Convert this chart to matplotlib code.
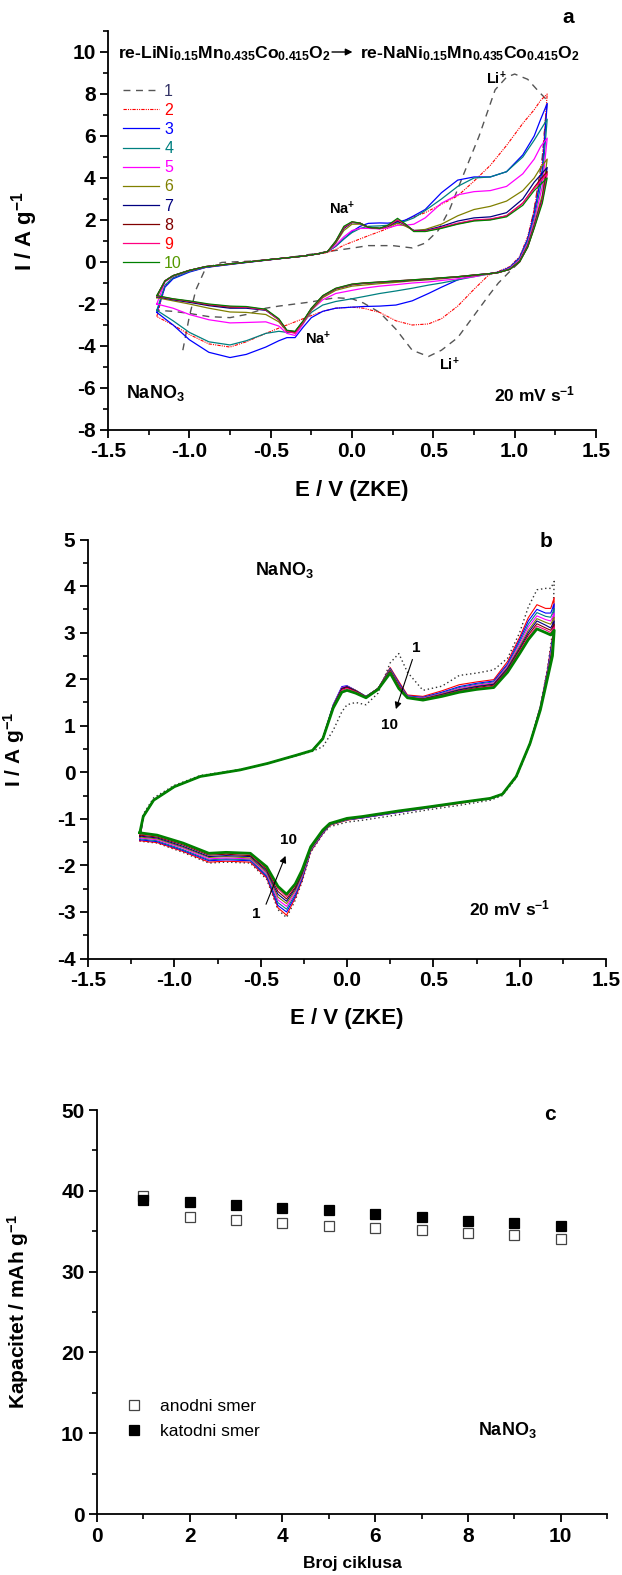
import matplotlib
matplotlib.use('Agg')
import matplotlib.pyplot as plt
from matplotlib.ticker import MultipleLocator

plt.rcParams['font.family'] = ['Liberation Sans', 'DejaVu Sans']
plt.rcParams['mathtext.fontset'] = 'custom'
plt.rcParams['mathtext.rm'] = 'Liberation Sans'
plt.rcParams['mathtext.bf'] = 'Liberation Sans:bold'
plt.rcParams['mathtext.it'] = 'Liberation Sans:italic'
plt.rcParams['mathtext.default'] = 'bf'
plt.rcParams['axes.unicode_minus'] = False

# ---------------- Panel a data ----------------
EA_AN = [-1.2, -1.15, -1.1, -1.0, -0.9, -0.7, -0.5, -0.3, -0.2, -0.15, -0.1, -0.05, 0.0, 0.05, 0.1,
         0.17, 0.22, 0.28, 0.33, 0.38, 0.45, 0.55, 0.65, 0.75, 0.85, 0.95, 1.05, 1.12, 1.16, 1.2]
EA_CAT = [1.2, 1.17, 1.12, 1.08, 1.03, 0.97, 0.9, 0.84, 0.75, 0.65, 0.55, 0.47, 0.37, 0.27, 0.17, 0.07,
          0.0, -0.1, -0.18, -0.25, -0.3, -0.35, -0.4, -0.45, -0.53, -0.65, -0.75, -0.88, -1.0, -1.1, -1.2]
E1_AN = [-1.04, -1.0, -0.96, -0.9, -0.8, -0.6, -0.4, -0.2, -0.1, 0.0, 0.1, 0.25, 0.37, 0.45, 0.53,
         0.6, 0.68, 0.78, 0.88, 0.95, 1.0, 1.08, 1.15, 1.2]

A1_AN = [-4.2, -2.6, -1.33, -0.3, -0.02, 0.05, 0.2, 0.43, 0.55, 0.66, 0.78, 0.78, 0.67, 0.9, 1.5,
         2.5, 4.06, 5.97, 8.2, 8.8, 8.95, 8.7, 8.1, 7.7]
A2_AN = [-2.6, -1.15, -0.75, -0.45, -0.25, -0.06, 0.11, 0.28, 0.4, 0.45, 0.6, 0.8, 0.95, 1.1, 1.25,
         1.45, 1.6, 1.8, 2.0, 2.15, 2.35, 2.75, 3.15, 3.85, 4.6, 5.55, 6.6, 7.25, 7.7, 8.0]
A3_AN = [-2.4, -1.2, -0.8, -0.48, -0.26, -0.07, 0.11, 0.28, 0.4, 0.5, 0.75, 1.1, 1.45, 1.7, 1.84,
         1.86, 1.85, 1.9, 2.0, 2.2, 2.5, 3.3, 3.9, 4.05, 4.05, 4.3, 5.1, 6.0, 6.8, 7.55]
A4_AN = [-2.3, -1.1, -0.75, -0.45, -0.25, -0.06, 0.12, 0.28, 0.4, 0.5, 0.75, 1.1, 1.4, 1.6, 1.7,
         1.72, 1.75, 1.85, 1.95, 2.1, 2.45, 3.0, 3.6, 4.0, 4.05, 4.3, 5.0, 5.8, 6.3, 6.8]
A5_AN = [-2.0, -0.95, -0.68, -0.42, -0.23, -0.05, 0.12, 0.28, 0.4, 0.5, 0.8, 1.2, 1.5, 1.6, 1.6,
         1.58, 1.62, 1.75, 1.75, 1.8, 2.1, 2.8, 3.2, 3.35, 3.4, 3.6, 4.2, 4.9, 5.5, 5.9]
A6_AN = [-1.7, -0.92, -0.66, -0.4, -0.22, -0.05, 0.12, 0.28, 0.4, 0.5, 0.9, 1.5, 1.8, 1.8, 1.65,
         1.6, 1.68, 1.85, 1.7, 1.5, 1.55, 1.8, 2.2, 2.5, 2.65, 2.9, 3.4, 4.0, 4.5, 4.9]
A7_AN = [-1.65, -0.9, -0.65, -0.4, -0.22, -0.05, 0.12, 0.28, 0.4, 0.5, 0.95, 1.6, 1.88, 1.85, 1.66,
         1.6, 1.7, 1.95, 1.76, 1.5, 1.5, 1.7, 1.95, 2.1, 2.15, 2.35, 3.0, 3.8, 4.15, 4.5]
A8_AN = [-1.62, -0.9, -0.65, -0.4, -0.22, -0.05, 0.12, 0.28, 0.4, 0.5, 0.98, 1.65, 1.9, 1.85, 1.65,
         1.6, 1.72, 2.0, 1.78, 1.47, 1.47, 1.63, 1.82, 1.98, 2.02, 2.2, 2.8, 3.55, 3.95, 4.3]
A9_AN = [-1.62, -0.9, -0.65, -0.4, -0.22, -0.05, 0.12, 0.28, 0.4, 0.5, 0.98, 1.65, 1.9, 1.85, 1.65,
         1.58, 1.72, 2.0, 1.78, 1.47, 1.47, 1.65, 1.85, 2.0, 2.05, 2.2, 2.8, 3.5, 3.85, 4.2]
A10_AN = [-1.6, -0.9, -0.65, -0.4, -0.22, -0.05, 0.12, 0.28, 0.4, 0.5, 1.0, 1.7, 1.92, 1.85, 1.65,
          1.6, 1.75, 2.08, 1.8, 1.45, 1.45, 1.6, 1.8, 1.95, 2.0, 2.15, 2.7, 3.4, 3.7, 4.0]

A1_CAT = [7.7, 5.0, 2.5, 1.0, 0.0, -0.45, -1.0, -1.6, -2.55, -3.6, -4.2, -4.5, -4.2, -3.2, -2.4, -1.95,
          -1.75, -1.7, -1.8, -1.9, -1.95, -2.0, -2.05, -2.1, -2.2, -2.5, -2.65, -2.6, -2.45, -2.35, -2.3]
A2_CAT = [8.0, 4.8, 2.5, 1.2, 0.25, -0.22, -0.45, -0.62, -1.3, -2.1, -2.7, -2.95, -3.0, -2.8, -2.4, -2.2,
          -2.15, -2.2, -2.35, -2.55, -2.7, -2.85, -3.0, -3.15, -3.4, -3.8, -4.05, -3.9, -3.45, -3.0, -2.6]
A3_CAT = [7.55, 4.4, 2.3, 1.1, 0.2, -0.25, -0.48, -0.56, -0.62, -0.85, -1.2, -1.5, -1.85, -2.05, -2.1, -2.12,
          -2.15, -2.2, -2.35, -2.65, -3.1, -3.6, -3.6, -3.75, -4.05, -4.4, -4.55, -4.3, -3.7, -3.0, -2.4]
A4_CAT = [6.8, 4.0, 2.1, 1.0, 0.15, -0.28, -0.5, -0.58, -0.7, -0.85, -1.0, -1.1, -1.25, -1.38, -1.5, -1.65,
          -1.75, -1.88, -2.05, -2.4, -2.9, -3.35, -3.35, -3.3, -3.4, -3.75, -3.95, -3.8, -3.35, -2.8, -2.3]
A5_CAT = [5.9, 3.6, 1.95, 0.9, 0.1, -0.3, -0.5, -0.56, -0.7, -0.8, -0.88, -0.95, -1.0, -1.08, -1.15, -1.25,
          -1.35, -1.5, -1.8, -2.3, -2.95, -3.5, -3.4, -3.05, -2.85, -2.88, -2.9, -2.75, -2.5, -2.2, -2.0]
A6_CAT = [4.9, 3.2, 1.8, 0.8, 0.05, -0.33, -0.5, -0.56, -0.65, -0.72, -0.8, -0.85, -0.9, -0.97, -1.03, -1.1,
          -1.15, -1.35, -1.7, -2.3, -2.9, -3.35, -3.3, -2.85, -2.5, -2.4, -2.38, -2.2, -2.0, -1.85, -1.7]
A7_CAT = [4.5, 3.0, 1.7, 0.75, 0.02, -0.35, -0.5, -0.56, -0.63, -0.71, -0.77, -0.82, -0.87, -0.92, -0.97, -1.02,
          -1.08, -1.28, -1.63, -2.23, -2.82, -3.32, -3.28, -2.75, -2.3, -2.2, -2.2, -2.08, -1.92, -1.8, -1.65]
A8_CAT = [4.3, 2.95, 1.65, 0.72, 0.0, -0.35, -0.5, -0.56, -0.62, -0.7, -0.76, -0.81, -0.86, -0.91, -0.96, -1.01,
          -1.07, -1.27, -1.62, -2.22, -2.82, -3.32, -3.28, -2.73, -2.27, -2.15, -2.15, -2.04, -1.88, -1.77, -1.62]
A9_CAT = [4.2, 2.9, 1.65, 0.72, 0.0, -0.35, -0.5, -0.56, -0.62, -0.7, -0.76, -0.8, -0.85, -0.9, -0.96, -1.0,
          -1.06, -1.26, -1.62, -2.22, -2.85, -3.4, -3.3, -2.75, -2.28, -2.15, -2.12, -2.02, -1.87, -1.76, -1.62]
A10_CAT = [4.0, 2.8, 1.6, 0.7, 0.0, -0.35, -0.5, -0.56, -0.62, -0.7, -0.75, -0.8, -0.85, -0.9, -0.95, -1.0,
           -1.05, -1.25, -1.6, -2.2, -2.8, -3.3, -3.25, -2.7, -2.25, -2.12, -2.1, -2.0, -1.85, -1.75, -1.6]

# ---------------- Panel b data ----------------
EB_AN = [-1.2, -1.18, -1.12, -1.0, -0.85, -0.62, -0.46, -0.29, -0.2, -0.14, -0.08, -0.03, 0.0, 0.05, 0.11,
         0.18, 0.25, 0.3, 0.35, 0.44, 0.55, 0.65, 0.75, 0.85, 0.93, 1.0, 1.05, 1.1, 1.15, 1.18, 1.2]
EB_CAT = [1.2, 1.19, 1.16, 1.12, 1.06, 0.98, 0.9, 0.83, 0.65, 0.48, 0.3, 0.09, 0.0, -0.1, -0.14, -0.21,
          -0.26, -0.3, -0.35, -0.4, -0.465, -0.56, -0.7, -0.8, -0.95, -1.1, -1.2]

B1_AN = [-1.48, -0.9, -0.55, -0.28, -0.07, 0.06, 0.19, 0.36, 0.45, 0.55, 0.9, 1.3, 1.45, 1.5, 1.45,
         1.7, 2.35, 2.55, 2.15, 1.76, 1.85, 2.08, 2.13, 2.2, 2.45, 3.0, 3.55, 3.92, 3.95, 3.95, 4.1]
B2_AN = [-1.47, -0.95, -0.6, -0.31, -0.09, 0.05, 0.19, 0.37, 0.47, 0.73, 1.4, 1.8, 1.83, 1.75, 1.62,
         1.8, 2.25, 1.95, 1.66, 1.63, 1.75, 1.88, 1.94, 1.99, 2.38, 2.9, 3.32, 3.6, 3.52, 3.52, 3.75]
B3_AN = [-1.45, -0.95, -0.6, -0.31, -0.09, 0.05, 0.19, 0.37, 0.47, 0.73, 1.45, 1.84, 1.86, 1.76, 1.63,
         1.8, 2.23, 1.92, 1.64, 1.61, 1.72, 1.84, 1.91, 1.96, 2.33, 2.85, 3.25, 3.5, 3.42, 3.42, 3.62]
B4_AN = [-1.43, -0.95, -0.6, -0.31, -0.09, 0.05, 0.19, 0.37, 0.47, 0.73, 1.44, 1.82, 1.85, 1.76, 1.63,
         1.8, 2.22, 1.9, 1.63, 1.6, 1.7, 1.82, 1.89, 1.94, 2.3, 2.8, 3.18, 3.43, 3.35, 3.33, 3.52]
B5_AN = [-1.41, -0.95, -0.6, -0.31, -0.09, 0.05, 0.19, 0.37, 0.47, 0.73, 1.44, 1.82, 1.85, 1.76, 1.62,
         1.8, 2.2, 1.88, 1.62, 1.59, 1.69, 1.8, 1.87, 1.92, 2.28, 2.75, 3.12, 3.36, 3.28, 3.25, 3.42]
B6_AN = [-1.39, -0.95, -0.6, -0.31, -0.09, 0.05, 0.19, 0.37, 0.47, 0.73, 1.43, 1.8, 1.84, 1.76, 1.62,
         1.8, 2.2, 1.87, 1.61, 1.58, 1.68, 1.78, 1.85, 1.9, 2.25, 2.7, 3.05, 3.3, 3.22, 3.18, 3.33]
B7_AN = [-1.37, -0.95, -0.6, -0.31, -0.09, 0.05, 0.19, 0.37, 0.47, 0.73, 1.42, 1.8, 1.84, 1.75, 1.62,
         1.8, 2.18, 1.86, 1.6, 1.57, 1.67, 1.77, 1.84, 1.89, 2.23, 2.66, 3.0, 3.25, 3.16, 3.1, 3.25]
B8_AN = [-1.35, -0.95, -0.6, -0.31, -0.09, 0.05, 0.19, 0.37, 0.47, 0.73, 1.4, 1.78, 1.82, 1.74, 1.62,
         1.8, 2.17, 1.86, 1.6, 1.57, 1.66, 1.75, 1.82, 1.87, 2.2, 2.63, 2.95, 3.19, 3.1, 3.05, 3.18]
B9_AN = [-1.33, -0.95, -0.6, -0.31, -0.09, 0.05, 0.19, 0.37, 0.47, 0.73, 1.4, 1.76, 1.8, 1.73, 1.62,
         1.8, 2.16, 1.85, 1.6, 1.56, 1.65, 1.74, 1.8, 1.85, 2.18, 2.6, 2.9, 3.14, 3.06, 3.0, 3.12]
B10_AN = [-1.3, -0.95, -0.6, -0.31, -0.09, 0.05, 0.19, 0.37, 0.47, 0.72, 1.38, 1.72, 1.76, 1.7, 1.6,
          1.78, 2.13, 1.8, 1.6, 1.55, 1.63, 1.72, 1.78, 1.82, 2.15, 2.55, 2.85, 3.08, 3.0, 2.95, 3.05]

B1_CAT = [4.1, 3.0, 2.2, 1.42, 0.6, -0.12, -0.5, -0.6, -0.71, -0.8, -0.91, -1.03, -1.07, -1.17, -1.33,
          -1.72, -2.35, -2.75, -3.12, -2.95, -2.3, -1.95, -1.93, -1.95, -1.72, -1.52, -1.48]
B2_CAT = [3.75, 2.9, 2.18, 1.42, 0.62, -0.09, -0.47, -0.56, -0.67, -0.76, -0.86, -0.98, -1.03, -1.14, -1.32,
          -1.7, -2.32, -2.7, -3.07, -2.91, -2.27, -1.93, -1.91, -1.93, -1.7, -1.51, -1.47]
B3_CAT = [3.62, 2.85, 2.15, 1.41, 0.62, -0.09, -0.47, -0.56, -0.66, -0.76, -0.86, -0.98, -1.02, -1.13, -1.31,
          -1.68, -2.29, -2.66, -3.0, -2.86, -2.24, -1.9, -1.88, -1.9, -1.68, -1.49, -1.45]
B4_CAT = [3.52, 2.8, 2.12, 1.4, 0.62, -0.09, -0.47, -0.56, -0.66, -0.75, -0.85, -0.97, -1.02, -1.13, -1.3,
          -1.67, -2.26, -2.62, -2.94, -2.8, -2.21, -1.88, -1.86, -1.88, -1.66, -1.47, -1.43]
B5_CAT = [3.42, 2.75, 2.1, 1.39, 0.62, -0.09, -0.47, -0.56, -0.66, -0.75, -0.85, -0.97, -1.01, -1.12, -1.29,
          -1.66, -2.23, -2.58, -2.88, -2.74, -2.18, -1.86, -1.84, -1.86, -1.63, -1.45, -1.41]
B6_CAT = [3.33, 2.7, 2.08, 1.38, 0.62, -0.09, -0.47, -0.56, -0.65, -0.75, -0.84, -0.96, -1.01, -1.12, -1.28,
          -1.65, -2.2, -2.54, -2.82, -2.68, -2.15, -1.84, -1.81, -1.83, -1.61, -1.43, -1.39]
B7_CAT = [3.25, 2.65, 2.06, 1.37, 0.62, -0.09, -0.47, -0.56, -0.65, -0.74, -0.84, -0.96, -1.0, -1.11, -1.27,
          -1.63, -2.17, -2.5, -2.77, -2.62, -2.12, -1.81, -1.79, -1.81, -1.59, -1.41, -1.37]
B8_CAT = [3.18, 2.6, 2.04, 1.36, 0.62, -0.09, -0.47, -0.56, -0.65, -0.74, -0.83, -0.95, -1.0, -1.11, -1.26,
          -1.62, -2.15, -2.47, -2.72, -2.56, -2.09, -1.79, -1.76, -1.78, -1.56, -1.39, -1.35]
B9_CAT = [3.12, 2.55, 2.02, 1.35, 0.62, -0.09, -0.47, -0.56, -0.65, -0.74, -0.83, -0.95, -0.99, -1.1, -1.25,
          -1.61, -2.12, -2.43, -2.67, -2.5, -2.06, -1.76, -1.74, -1.76, -1.54, -1.37, -1.33]
B10_CAT = [3.05, 2.5, 2.0, 1.34, 0.62, -0.09, -0.47, -0.56, -0.65, -0.74, -0.83, -0.95, -0.99, -1.1, -1.24,
           -1.6, -2.1, -2.4, -2.62, -2.45, -2.03, -1.74, -1.72, -1.74, -1.52, -1.35, -1.3]

# ---------------- Panel c data ----------------
cycles = [1, 2, 3, 4, 5, 6, 7, 8, 9, 10]
anodni = [39.3, 36.8, 36.4, 36.0, 35.6, 35.4, 35.1, 34.8, 34.5, 34.0]
katodni = [38.8, 38.6, 38.2, 37.9, 37.6, 37.1, 36.8, 36.3, 36.0, 35.6]

cycle_labels = ['1', '2', '3', '4', '5', '6', '7', '8', '9', '10']
colors = ['#555555', '#FF0000', '#0000FF', '#008080', '#FF00FF', '#808000', '#000080', '#800000', '#FF0080', '#008000']
label_colors = ['#333366', '#FF0000', '#0000FF', '#008080', '#FF00FF', '#808000', '#000080', '#800000', '#FF0000', '#559900']

# ---------------- figure ----------------
W, H = 622, 1575
fig = plt.figure(figsize=(W / 100, H / 100), dpi=100)


def add_ax(l, r, t, b):
    return fig.add_axes([l / W, 1 - b / H, (r - l) / W, (b - t) / H])


def style(ax, xmaj, xmin, ymaj, ymin, fs=15):
    for s in ['top', 'right']:
        ax.spines[s].set_visible(False)
    for s in ['left', 'bottom']:
        ax.spines[s].set_linewidth(1.3)
    ax.xaxis.set_major_locator(MultipleLocator(xmaj))
    ax.xaxis.set_minor_locator(MultipleLocator(xmin))
    ax.yaxis.set_major_locator(MultipleLocator(ymaj))
    ax.yaxis.set_minor_locator(MultipleLocator(ymin))
    ax.tick_params(which='major', direction='out', length=6, width=1.3, labelsize=fs, pad=3)
    ax.tick_params(which='minor', direction='out', length=3.5, width=1.2)
    for lab in ax.get_xticklabels() + ax.get_yticklabels():
        lab.set_fontweight('bold')


# ===== Panel a =====
L_A, R_A, T_A, B_A = 108, 596, 31, 430
axA = add_ax(L_A, R_A, T_A, B_A)
axA.set_xlim(-1.5, 1.5)
axA.set_ylim(-8, 11)
an_a = [A1_AN, A2_AN, A3_AN, A4_AN, A5_AN, A6_AN, A7_AN, A8_AN, A9_AN, A10_AN]
cat_a = [A1_CAT, A2_CAT, A3_CAT, A4_CAT, A5_CAT, A6_CAT, A7_CAT, A8_CAT, A9_CAT, A10_CAT]
handles = []
for k in range(10):
    e_an = E1_AN if k == 0 else EA_AN
    if k == 0:
        ls = (0, (5, 4)); lw = 1.0
    elif k == 1:
        ls = (0, (3, 1, 1, 1, 1, 1)); lw = 0.8
    else:
        ls = '-'; lw = 0.9
    h, = axA.plot(e_an + EA_CAT, an_a[k] + cat_a[k], color=colors[k], lw=lw, ls=ls)
    handles.append(h)
leg = axA.legend(handles, cycle_labels, loc='upper left', bbox_to_anchor=(0.03, 0.868),
                 frameon=False, fontsize=11.5, handlelength=2.3, handletextpad=0.3,
                 labelspacing=0.26, borderpad=0, borderaxespad=0)
for t, c in zip(leg.get_texts(), label_colors):
    t.set_color(c)
style(axA, 0.5, 0.25, 2, 1)
axA.set_xlabel('E / V (ZKE)', fontsize=16, fontweight='bold')
axA.xaxis.set_label_coords(0.5, -(480 - B_A) / (B_A - T_A))
axA.set_ylabel('I / A g$^{-1}$', fontsize=16, fontweight='bold')
axA.yaxis.set_label_coords(-(L_A - 40) / (R_A - L_A), 0.5)

axA.text(-1.44, 9.68, 're-LiNi$_{0.15}$Mn$_{0.435}$Co$_{0.415}$O$_2$', fontsize=12.6, fontweight='bold',
         ha='left', va='baseline')
axA.annotate('', xy=(0.02, 10.0), xytext=(-0.14, 10.0),
             arrowprops=dict(arrowstyle='-|>', color='black', lw=1.0, mutation_scale=10))
axA.text(0.05, 9.68, 're-NaNi$_{0.15}$Mn$_{0.435}$Co$_{0.415}$O$_2$', fontsize=12.6, fontweight='bold',
         ha='left', va='baseline')
axA.text(1.33, 11.65, 'a', fontsize=15, fontweight='bold', ha='center', va='center', clip_on=False)
axA.text(0.89, 8.75, 'Li$^{+}$', fontsize=10.5, fontweight='bold', ha='center', va='center')
axA.text(0.6, -4.9, 'Li$^{+}$', fontsize=10.5, fontweight='bold', ha='center', va='center')
axA.text(-0.06, 2.55, 'Na$^{+}$', fontsize=10.5, fontweight='bold', ha='center', va='center')
axA.text(-0.21, -3.65, 'Na$^{+}$', fontsize=10.5, fontweight='bold', ha='center', va='center')
axA.text(-1.39, -6.25, 'NaNO$_3$', fontsize=13, fontweight='bold', ha='left', va='center')
axA.text(1.12, -6.3, '20 mV s$^{-1}$', fontsize=12.5, fontweight='bold', ha='center', va='center')

# ===== Panel b =====
L_B, R_B, T_B, B_B = 88, 606, 539.5, 958.5
axB = add_ax(L_B, R_B, T_B, B_B)
axB.set_xlim(-1.5, 1.5)
axB.set_ylim(-4, 5)
an_b = [B1_AN, B2_AN, B3_AN, B4_AN, B5_AN, B6_AN, B7_AN, B8_AN, B9_AN, B10_AN]
cat_b = [B1_CAT, B2_CAT, B3_CAT, B4_CAT, B5_CAT, B6_CAT, B7_CAT, B8_CAT, B9_CAT, B10_CAT]
b_colors = ['#333333'] + colors[1:]
for k in range(10):
    if k == 0:
        ls = (0, (1, 2)); lw = 1.0
    elif k == 9:
        ls = '-'; lw = 2.0
    else:
        ls = '-'; lw = 0.8
    axB.plot(EB_AN + EB_CAT, an_b[k] + cat_b[k], color=b_colors[k], lw=lw, ls=ls)
style(axB, 0.5, 0.25, 1, 0.5)
axB.set_xlabel('E / V (ZKE)', fontsize=16, fontweight='bold')
axB.xaxis.set_label_coords(0.5, -(1008 - B_B) / (B_B - T_B))
axB.set_ylabel('I / A g$^{-1}$', fontsize=15, fontweight='bold')
axB.yaxis.set_label_coords(-(L_B - 27) / (R_B - L_B), 0.5)
axB.text(1.155, 4.95, 'b', fontsize=15, fontweight='bold', ha='center', va='center', clip_on=False)
axB.text(-0.365, 4.34, 'NaNO$_3$', fontsize=13, fontweight='bold', ha='center', va='center')
axB.text(0.94, -2.92, '20 mV s$^{-1}$', fontsize=12.5, fontweight='bold', ha='center', va='center')
axB.annotate('', xy=(0.278, 1.3), xytext=(0.384, 2.48),
             arrowprops=dict(arrowstyle='-|>', color='black', lw=0.8, mutation_scale=10))
axB.text(0.403, 2.68, '1', fontsize=11, fontweight='bold', ha='center', va='center')
axB.text(0.249, 1.02, '10', fontsize=11, fontweight='bold', ha='center', va='center')
axB.annotate('', xy=(-0.35, -1.74), xytext=(-0.475, -2.89),
             arrowprops=dict(arrowstyle='-|>', color='black', lw=0.8, mutation_scale=10))
axB.text(-0.34, -1.45, '10', fontsize=11, fontweight='bold', ha='center', va='center')
axB.text(-0.523, -3.05, '1', fontsize=11, fontweight='bold', ha='center', va='center')

# ===== Panel c =====
L_C, R_C, T_C, B_C = 97, 607, 1110, 1514
axC = add_ax(L_C, R_C, T_C, B_C)
axC.set_xlim(0, 11)
axC.set_ylim(0, 50)
axC.plot(cycles, anodni, ls='none', marker='s', ms=7, mfc='white', mec='#444444', mew=0.9,
         label='anodni smer')
axC.plot(cycles, katodni, ls='none', marker='s', ms=7, mfc='black', mec='black', mew=0.9,
         label='katodni smer')
style(axC, 2, 1, 10, 5)
axC.legend(loc='upper left', bbox_to_anchor=(0.055, 0.285), frameon=False, fontsize=12.5,
           handletextpad=1.0, labelspacing=0.55, borderpad=0, borderaxespad=0, handlelength=1.0)
axC.set_xlabel('Broj ciklusa', fontsize=12.5, fontweight='bold')
axC.xaxis.set_label_coords(0.5, -(1556 - B_C) / (B_C - T_C))
axC.set_ylabel('Kapacitet / mAh g$^{-1}$', fontsize=15, fontweight='bold')
axC.yaxis.set_label_coords(-(L_C - 31) / (R_C - L_C), 0.5)
axC.text(9.76, 49.5, 'c', fontsize=15, fontweight='bold', ha='center', va='center')
axC.text(8.85, 10.4, 'NaNO$_3$', fontsize=13, fontweight='bold', ha='center', va='center')

fig.savefig('out.png', dpi=100)
